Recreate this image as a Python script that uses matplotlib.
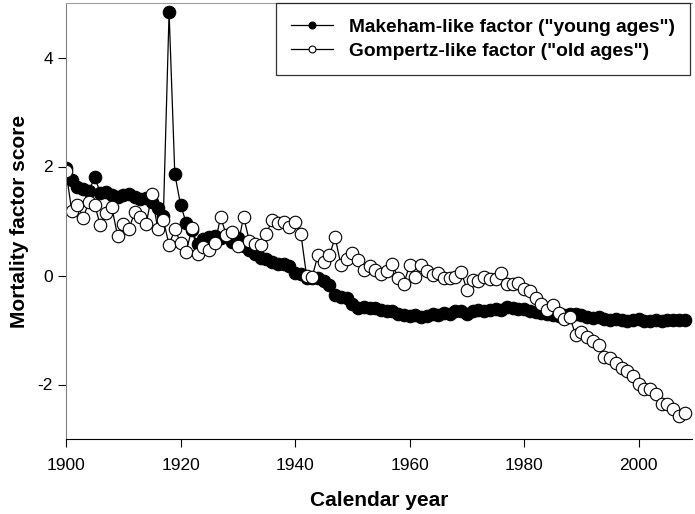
import matplotlib
matplotlib.use("Agg")
import matplotlib.pyplot as plt
import numpy as np

plt.rcParams['font.family'] = ['Liberation Sans', 'DejaVu Sans']
plt.rcParams['axes.unicode_minus'] = False

years = np.arange(1900, 2009)

# Makeham-like factor ("young ages")
makeham = [
    1.97, 1.75, 1.63, 1.58, 1.55, 1.80, 1.52, 1.53, 1.47, 1.44,
    1.47, 1.50, 1.44, 1.40, 1.43, 1.35, 1.24, 1.10, 4.83, 1.86,
    1.30, 0.96, 0.83, 0.57, 0.67, 0.70, 0.72, 0.68, 0.72, 0.62,
    0.68, 0.55, 0.47, 0.40, 0.32, 0.30, 0.25, 0.22, 0.22, 0.18,
    0.05, 0.02, -0.05, -0.04, -0.05, -0.10, -0.18, -0.35, -0.40, -0.42,
    -0.52, -0.60, -0.58, -0.60, -0.60, -0.63, -0.66, -0.65, -0.70, -0.72,
    -0.75, -0.72, -0.76, -0.74, -0.70, -0.72, -0.68, -0.70, -0.66, -0.65,
    -0.70, -0.65, -0.63, -0.66, -0.64, -0.62, -0.64, -0.58, -0.60, -0.62,
    -0.62, -0.65, -0.67, -0.69, -0.70, -0.72, -0.74, -0.72, -0.70, -0.70,
    -0.72, -0.76, -0.78, -0.76, -0.80, -0.82, -0.80, -0.82, -0.83, -0.82,
    -0.80, -0.84, -0.84, -0.82, -0.83, -0.82, -0.82, -0.81, -0.81,
]

# Gompertz-like factor ("old ages")
gompertz = [
    1.91, 1.19, 1.30, 1.06, 1.35, 1.30, 0.92, 1.15, 1.25, 0.73,
    0.95, 0.86, 1.16, 1.07, 0.94, 1.50, 0.86, 1.02, 0.56, 0.85,
    0.60, 0.44, 0.87, 0.40, 0.52, 0.47, 0.59, 1.07, 0.74, 0.79,
    0.54, 1.08, 0.64, 0.58, 0.56, 0.77, 1.02, 0.97, 0.98, 0.89,
    0.99, 0.77, 0.00, -0.02, 0.38, 0.24, 0.37, 0.70, 0.19, 0.31,
    0.41, 0.28, 0.10, 0.18, 0.11, 0.03, 0.09, 0.21, -0.05, -0.15,
    0.20, -0.02, 0.20, 0.08, 0.01, 0.05, -0.04, -0.04, -0.02, 0.07,
    -0.26, -0.09, -0.10, -0.02, -0.07, -0.06, 0.05, -0.16, -0.15, -0.14,
    -0.25, -0.29, -0.42, -0.52, -0.64, -0.54, -0.68, -0.80, -0.77, -1.10,
    -1.03, -1.12, -1.21, -1.27, -1.49, -1.51, -1.60, -1.69, -1.75, -1.85,
    -1.99, -2.08, -2.09, -2.18, -2.35, -2.36, -2.45, -2.58, -2.53,
]

fig = plt.figure(figsize=(6.95, 5.14), dpi=100)
ax = fig.add_axes([66 / 695, 75 / 514, 626 / 695, 436 / 514])

ax.plot(years, makeham, color='black', lw=0.9, marker='o', ms=9,
        mfc='black', mec='black', mew=0.8, label='Makeham-like factor ("young ages")')
ax.plot(years, gompertz, color='black', lw=0.9, marker='o', ms=9,
        mfc='white', mec='black', mew=0.8, label='Gompertz-like factor ("old ages")')

ax.set_xlim(1900, 2009.3)
ax.set_ylim(-3, 5)
ax.set_xticks([1900, 1920, 1940, 1960, 1980, 2000])
ax.set_yticks([-2, 0, 2, 4])
ax.tick_params(axis='both', labelsize=12.5, length=6, width=0.8, direction='out')
ax.tick_params(axis='x', pad=8)

ax.spines['left'].set_color('#808080')
ax.spines['top'].set_color('#a0a0a0')
ax.spines['right'].set_visible(False)
ax.spines['bottom'].set_color('black')

ax.set_xlabel('Calendar year', fontsize=15, fontweight='bold', labelpad=13)
ax.set_ylabel('Mortality factor score', fontsize=15, fontweight='bold', labelpad=6)

leg = ax.legend(loc='upper right', prop={'weight': 'bold', 'size': 13.8},
                markerscale=0.55, handlelength=2.2, frameon=True, fancybox=False,
                borderaxespad=0.0, borderpad=0.8, labelspacing=0.35,
                bbox_to_anchor=(0.997, 1.0))
leg.get_frame().set_edgecolor('black')
leg.get_frame().set_linewidth(0.9)

fig.savefig('out.png', dpi=100)
